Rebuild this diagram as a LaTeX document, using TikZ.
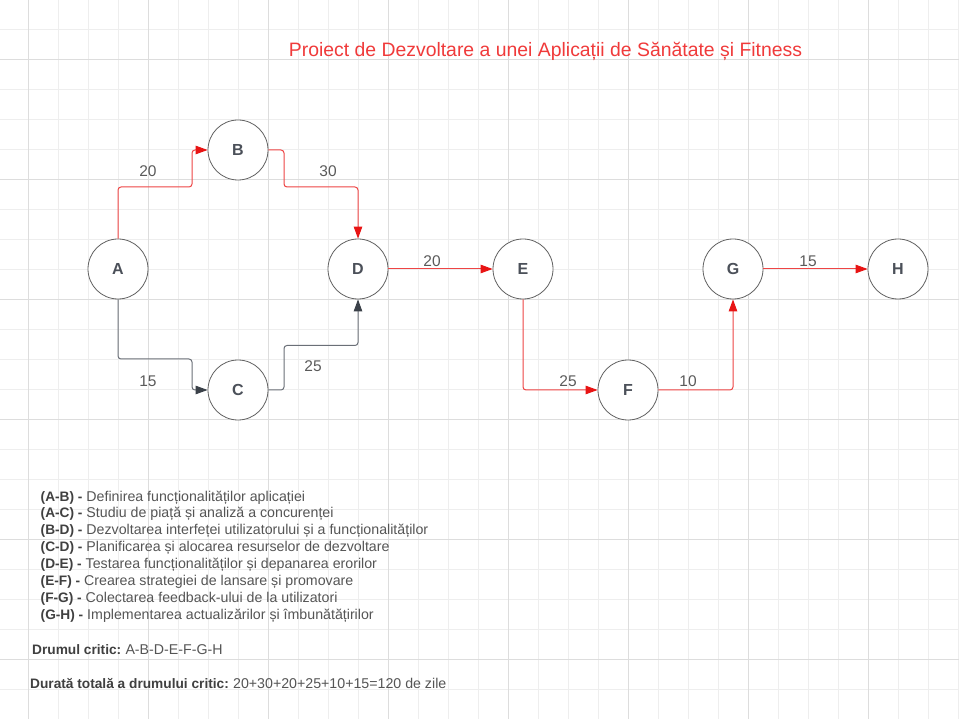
\documentclass[tikz,border=0pt]{standalone}
\usepackage{fontspec}
\setmainfont{Liberation Sans}
\usetikzlibrary{arrows.meta}
\definecolor{gridminor}{HTML}{EEEEEE}
\definecolor{gridmajor}{HTML}{DDDDDD}
\definecolor{critred}{HTML}{EE4545}
\definecolor{tipred}{HTML}{E81414}
\definecolor{normline}{HTML}{6A6F77}
\definecolor{normtip}{HTML}{3B4149}
\definecolor{nodetext}{HTML}{4B5059}
\definecolor{lbltext}{HTML}{5A5A5A}
\definecolor{titlered}{HTML}{F03A3A}
\definecolor{legtext}{HTML}{555555}
\definecolor{legbold}{HTML}{404040}
\tikzset{
  event/.style={circle, draw=black!62, line width=0.8pt, fill=white, minimum size=60pt, inner sep=0pt,
    text=nodetext, font=\fontsize{16}{19}\selectfont\bfseries},
  crit/.style={draw=critred, line width=1pt, rounded corners=3pt,
    -{Triangle[length=12pt,width=8.5pt,color=tipred]}},
  norm/.style={draw=normline, line width=1pt, rounded corners=3pt,
    -{Triangle[length=12pt,width=8.5pt,color=normtip]}},
  elabel/.style={text=lbltext, font=\fontsize{15.5}{18}\selectfont, inner sep=0pt},
  legline/.style={anchor=base west, inner sep=0pt, text=legtext, font=\fontsize{14.2}{16}\selectfont},
}
\newcommand{\lb}[1]{\textcolor{legbold}{\fontsize{13.7}{16}\selectfont\bfseries #1}}
\begin{document}
\begin{tikzpicture}[x=1pt,y=-1pt]
\useasboundingbox (0,0) rectangle (959,719);
\fill[white] (0,0) rectangle (959,719);
% grid
\foreach \i in {0,...,31} {\draw[gridminor, line width=1pt] (28.5+30*\i,0) -- (28.5+30*\i,719);}
\foreach \j in {0,...,23} {\draw[gridminor, line width=1pt] (0,29.5+30*\j) -- (959,29.5+30*\j);}
\foreach \i in {0,...,7} {\draw[gridmajor, line width=1pt] (28.5+120*\i,0) -- (28.5+120*\i,719);}
\foreach \j in {0,...,5} {\draw[gridmajor, line width=1pt] (0,59.5+120*\j) -- (959,59.5+120*\j);}
% title
\node[anchor=base, inner sep=0pt, text=titlered, font=\fontsize{19.4}{22}\selectfont] (title) at (545.5,57) {Proiect de Dezvoltare a unei Aplicații de Sănătate și Fitness};
% nodes
\node[event] (A) at (118,269) {A};
\node[event] (B) at (238,150) {B};
\node[event] (C) at (238,390) {C};
\node[event] (D) at (358,269) {D};
\node[event] (E) at (523,269) {E};
\node[event] (F) at (628,390) {F};
\node[event] (G) at (733,269) {G};
\node[event] (H) at (898,269) {H};
% edges
\draw[crit] (A.north) |- (192,187) |- (B.west);
\draw[crit] (B.east) -| (284,187) -| (D.north);
\draw[norm] (A.south) |- (192,359) |- (C.west);
\draw[norm] (C.east) -| (284,345.5) -| (D.south);
\draw[crit] (D.east) -- (E.west);
\draw[crit] (E.south) |- (F.west);
\draw[crit] (F.east) -| (G.south);
\draw[crit] (G.east) -- (H.west);
% edge labels
\node[elabel] (lAB) at (148,171) {20};
\node[elabel] (lBD) at (328,171) {30};
\node[elabel] (lAC) at (148,381) {15};
\node[elabel] (lCD) at (313,366) {25};
\node[elabel] (lDE) at (432,261) {20};
\node[elabel] (lEF) at (568,381) {25};
\node[elabel] (lFG) at (688,381) {10};
\node[elabel] (lGH) at (808,261) {15};
% legend
\node[legline] (g1) at (40.5,501) {\lb{(A-B) -} Definirea funcționalităților aplicației};
\node[legline] (g2) at (40.5,517.9) {\lb{(A-C) -} Studiu de piață și analiză a concurenței};
\node[legline] (g3) at (40.5,534.8) {\lb{(B-D) -} Dezvoltarea interfeței utilizatorului și a funcționalităților};
\node[legline] (g4) at (40.5,551.7) {\lb{(C-D) -} Planificarea și alocarea resurselor de dezvoltare};
\node[legline] (g5) at (40.5,568.6) {\lb{(D-E) -} Testarea funcționalităților și depanarea erorilor};
\node[legline] (g6) at (40.5,585.5) {\lb{(E-F) -} Crearea strategiei de lansare și promovare};
\node[legline] (g7) at (40.5,602.4) {\lb{(F-G) -} Colectarea feedback-ului de la utilizatori};
\node[legline] (g8) at (40.5,619.3) {\lb{(G-H) -} Implementarea actualizărilor și îmbunătățirilor};
\node[legline] (crit) at (32,654.3) {\lb{Drumul critic:}\hspace{0.3em}A-B-D-E-F-G-H};
\node[legline] (dur) at (30,688.3) {\lb{Durată totală a drumului critic:}\hspace{0.3em}20+30+20+25+10+15=120 de zile};
\end{tikzpicture}
\end{document}
